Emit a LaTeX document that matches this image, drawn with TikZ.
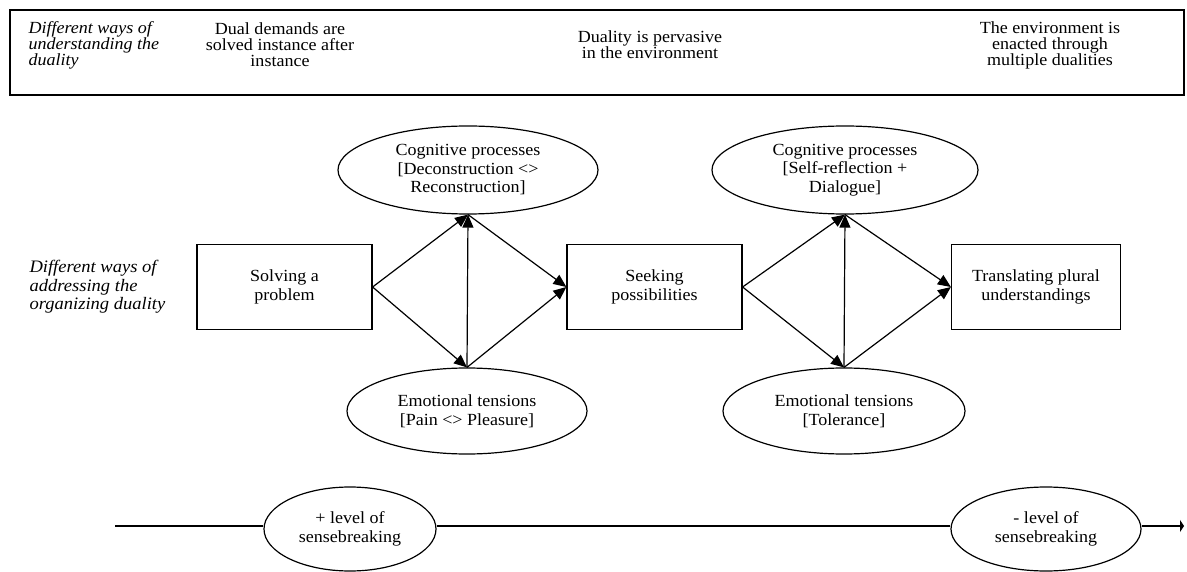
\documentclass[tikz,border=0pt]{standalone}
\usepackage{fontspec}
\setmainfont{Liberation Serif}[FakeStretch=1.06]
\usetikzlibrary{arrows.meta,shapes.geometric}

\begin{document}
\begin{tikzpicture}[x=1pt,y=-1pt,>={Triangle[length=13pt,width=11pt]},font=\fontsize{17}{18.5}\selectfont]
	\useasboundingbox (0,0) rectangle (1187,572);
	% top band
	\draw[line width=1.2pt] (10,10) rectangle (1184,95);
	\begin{scope}[every node/.style={align=center,font=\fontsize{17}{16}\selectfont}]
		\node (understandLbl) [anchor=west,align=left,font=\fontsize{17}{16}\selectfont\itshape] at (25,45) {Different ways of\\understanding the\\duality};
		\node (dualDemands) at (280,45) {Dual demands are\\solved instance after\\instance};
		\node (pervasive) at (650,45) {Duality is pervasive\\in the environment};
		\node (enacted) at (1050,45) {The environment is\\enacted through\\multiple dualities};
	\end{scope}

	\node (addressLbl) [anchor=west,align=left,font=\fontsize{17.5}{18.5}\selectfont\itshape] at (26,287) {Different ways of\\addressing the\\organizing duality};

	\begin{scope}[every node/.style={draw,line width=1.2pt,minimum width=175pt,minimum height=85pt,align=center}]
		\node (solve) at (284.5,287) {Solving a\\problem};
		\node (seek) at (654.5,287) {Seeking\\possibilities};
		\node (transl) [minimum width=169pt] at (1036,287) {Translating plural\\understandings};
	\end{scope}
	\begin{scope}[every node/.style={ellipse,draw,line width=1.2pt,inner sep=0pt,align=center}]
		\node (cogA) [minimum width=260pt,minimum height=88pt] at (468,170) {Cognitive processes\\{}[Deconstruction <>\\Reconstruction]};
		\node (emoA) [minimum width=240pt,minimum height=86pt] at (467,411) {Emotional tensions\\{}[Pain <> Pleasure]};
		\node (cogB) [minimum width=266pt,minimum height=88pt] at (845,170) {Cognitive processes\\{}[Self-reflection +\\Dialogue]};
		\node (emoB) [minimum width=242pt,minimum height=86pt] at (844,411) {Emotional tensions\\{}[Tolerance]};
		\node (plusLvl) [minimum width=172pt,minimum height=84pt] at (350,529) {+ level of\\sensebreaking};
		\node (minusLvl) [minimum width=190pt,minimum height=84pt] at (1046,529) {- level of\\sensebreaking};
	\end{scope}

	\begin{scope}[every edge/.style={draw,line width=1.2pt}]
		\path [->] (solve.east) edge (cogA.south);
		\path [->] (solve.east) edge (emoA.north);
		\path [->] (emoA.north) edge (cogA.south);
		\path [->] (cogA.south) edge (seek.west);
		\path [->] (emoA.north) edge (seek.west);
		\path [->] (seek.east) edge (cogB.south);
		\path [->] (seek.east) edge (emoB.north);
		\path [->] (emoB.north) edge (cogB.south);
		\path [->] (cogB.south) edge (transl.west);
		\path [->] (emoB.north) edge (transl.west);
	\end{scope}

	% sensebreaking scale
	\coordinate (lineStart) at (115,526);
	\coordinate (lineEnd) at (1184,526);
	\draw[line width=1.2pt] (lineStart) -- (plusLvl.west |- lineStart);
	\draw[line width=1.2pt] (plusLvl.east |- lineStart) -- (minusLvl.west |- lineStart);
	\draw[line width=1.2pt,-{Triangle[length=4pt,width=12pt]}] (minusLvl.east |- lineStart) -- (lineEnd);
\end{tikzpicture}
\end{document}
